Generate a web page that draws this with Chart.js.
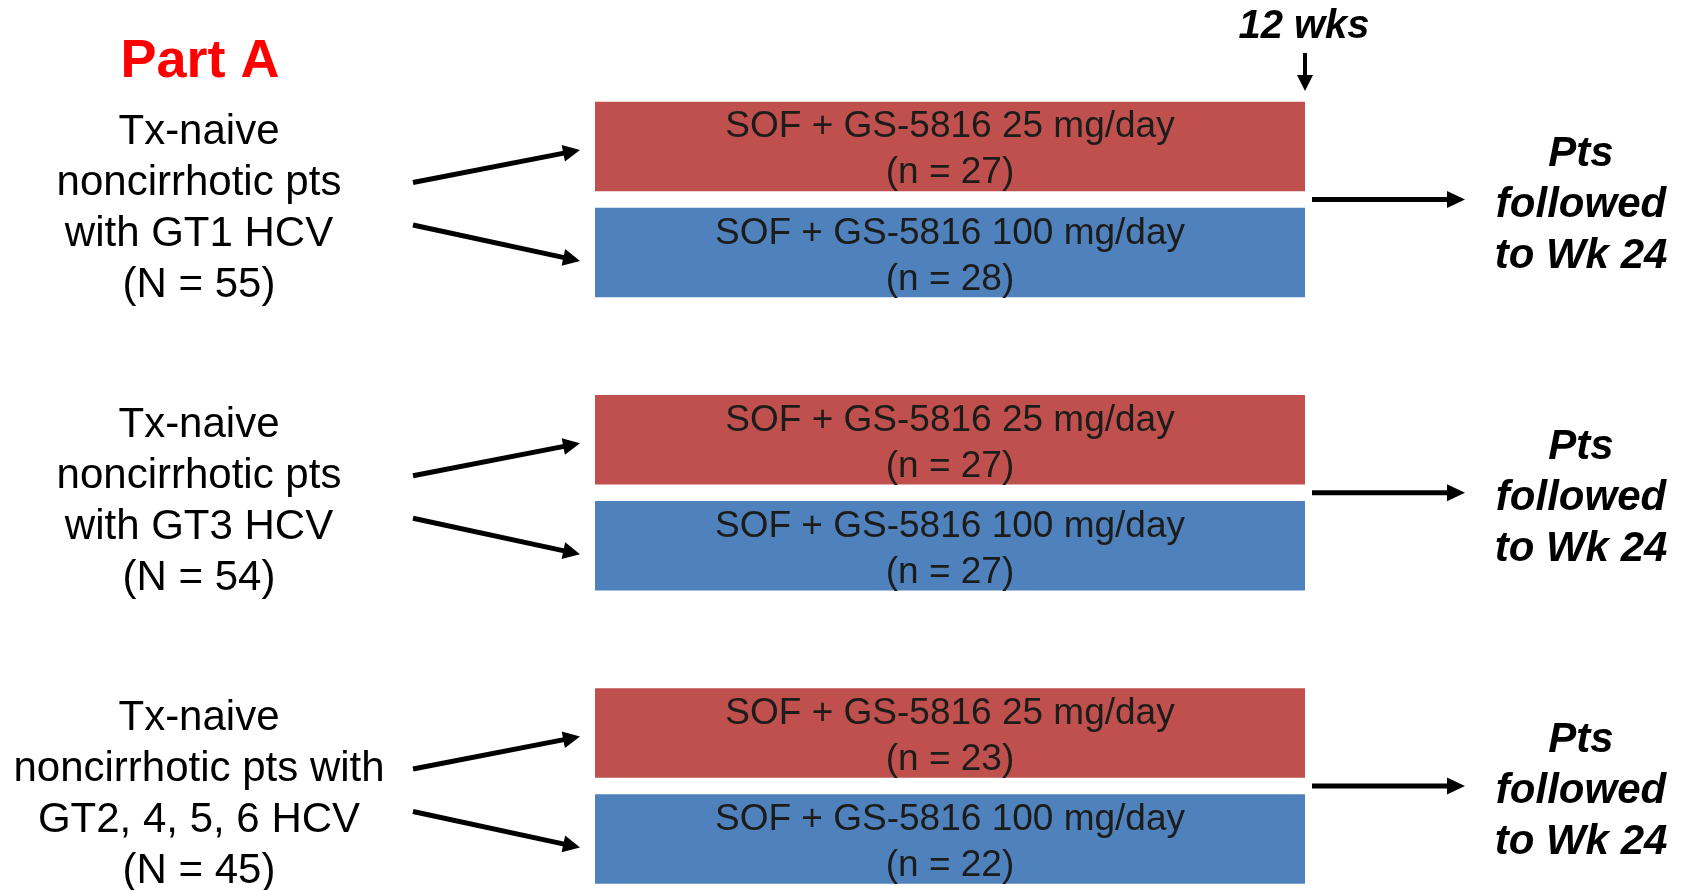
<!DOCTYPE html>
<html>
<head>
<meta charset="utf-8">
<script src="https://cdn.jsdelivr.net/npm/chart.js@4.4.1/dist/chart.umd.min.js"></script>
<style>
  html, body { margin: 0; padding: 0; background: #ffffff; }
  #wrap { width: 1683px; height: 890px; }
</style>
</head>
<body>
<div id="wrap"><canvas id="design" width="1683" height="890"></canvas></div>
<script>
// Study design: Part A cohorts, dose arms and treatment duration
const title = 'Part A';
const cohorts = ['GT1', 'GT3', 'GT2, 4, 5, 6'];
const cohortText = [
  ['Tx-naive', 'noncirrhotic pts', 'with GT1 HCV', '(N = 55)'],
  ['Tx-naive', 'noncirrhotic pts', 'with GT3 HCV', '(N = 54)'],
  ['Tx-naive', 'noncirrhotic pts with', 'GT2, 4, 5, 6 HCV', '(N = 45)']
];
const armNames = ['SOF + GS-5816 25 mg/day', 'SOF + GS-5816 100 mg/day'];
const arm25N = [27, 27, 23];
const arm100N = [28, 27, 22];
const treatmentWeeks = [0, 12];
const treatmentLabel = '12 wks';
const followUpText = ['Pts', 'followed', 'to Wk 24'];

const FONT = '"Liberation Sans", Arial, Helvetica, sans-serif';

function arrow(ctx, x1, y1, x2, y2, width, headLen, headHalf) {
  const ang = Math.atan2(y2 - y1, x2 - x1);
  const bx = x2 - Math.cos(ang) * headLen;
  const by = y2 - Math.sin(ang) * headLen;
  ctx.save();
  ctx.strokeStyle = '#000';
  ctx.fillStyle = '#000';
  ctx.lineWidth = width;
  ctx.lineCap = 'butt';
  ctx.beginPath();
  ctx.moveTo(x1, y1);
  ctx.lineTo(bx + Math.cos(ang) * 2, by + Math.sin(ang) * 2);
  ctx.stroke();
  ctx.beginPath();
  ctx.moveTo(x2, y2);
  ctx.lineTo(bx - Math.sin(ang) * headHalf, by + Math.cos(ang) * headHalf);
  ctx.lineTo(bx + Math.sin(ang) * headHalf, by - Math.cos(ang) * headHalf);
  ctx.closePath();
  ctx.fill();
  ctx.restore();
}

const annotations = {
  id: 'designAnnotations',
  afterDatasetsDraw(chart) {
    const ctx = chart.ctx;
    const xs = chart.scales.x;
    const ys = chart.scales.y;
    const xStart = xs.getPixelForValue(treatmentWeeks[0]);
    const xEnd = xs.getPixelForValue(treatmentWeeks[1]);
    ctx.save();
    ctx.textAlign = 'center';
    ctx.textBaseline = 'alphabetic';

    // arm labels inside the bars
    chart.data.datasets.forEach((ds, di) => {
      chart.getDatasetMeta(di).data.forEach((bar, i) => {
        const cx = (bar.x + bar.base) / 2;
        ctx.fillStyle = '#1c1c1a';
        ctx.font = '37px ' + FONT;
        ctx.fillText(ds.label, cx, bar.y - 9);
        ctx.fillText('(n = ' + ds.n[i] + ')', cx, bar.y + 37);
      });
    });

    cohorts.forEach((c, i) => {
      const cy = ys.getPixelForValue(i);
      // cohort description on the left
      ctx.fillStyle = '#000';
      ctx.font = '42px ' + FONT;
      cohortText[i].forEach((line, k) => {
        ctx.fillText(line, 199, cy - 56 + k * 51);
      });
      // arrows from the cohort to each arm
      const barRed = chart.getDatasetMeta(0).data[i];
      const barBlue = chart.getDatasetMeta(1).data[i];
      arrow(ctx, xStart - 182, cy - 17, xStart - 15, barRed.y + 3.5, 5, 17, 8.5);
      arrow(ctx, xStart - 182, cy + 25.5, xStart - 15, barBlue.y + 8.5, 5, 17, 8.5);
      // follow-up arrow and text
      arrow(ctx, xEnd + 7, cy, xEnd + 160, cy, 5, 18, 8.5);
      ctx.font = 'italic bold 42px ' + FONT;
      followUpText.forEach((line, k) => {
        ctx.fillText(line, xEnd + 276, cy - 34 + k * 51);
      });
    });

    // end-of-treatment marker
    ctx.font = 'italic bold 40px ' + FONT;
    ctx.fillText(treatmentLabel, xEnd - 1, 38);
    arrow(ctx, xEnd, 53, xEnd, 91, 4, 16, 8);

    // part title
    ctx.fillStyle = '#FF0000';
    ctx.font = 'bold 54px ' + FONT;
    ctx.fillText(title, 200, 77);
    ctx.restore();
  }
};

new Chart(document.getElementById('design'), {
  type: 'bar',
  data: {
    labels: cohorts,
    datasets: [
      { label: armNames[0], n: arm25N, data: cohorts.map(() => treatmentWeeks.slice()),
        backgroundColor: '#C0504D', borderWidth: 0, clip: false },
      { label: armNames[1], n: arm100N, data: cohorts.map(() => treatmentWeeks.slice()),
        backgroundColor: '#4F81BD', borderWidth: 0, clip: false }
    ]
  },
  options: {
    indexAxis: 'y',
    responsive: false,
    animation: false,
    devicePixelRatio: 1,
    categoryPercentage: 0.723,
    barPercentage: 0.844,
    layout: { padding: { left: 595, right: 378, top: 199.5, bottom: 104 } },
    scales: {
      x: { type: 'linear', min: 0, max: 12, display: false },
      y: { type: 'category', offset: false, display: false }
    },
    plugins: { legend: { display: false }, tooltip: { enabled: false } }
  },
  plugins: [annotations]
});
</script>
</body>
</html>
